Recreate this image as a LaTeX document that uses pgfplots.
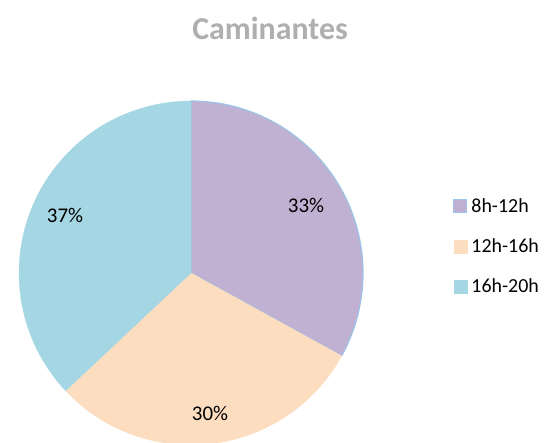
\documentclass[border=0pt]{standalone}
\usepackage{fontspec}
\setmainfont{Carlito}
\usepackage{pgfplots}
\pgfplotsset{compat=1.18}
\definecolor{cPurple}{RGB}{192,177,211}
\definecolor{cPeach}{RGB}{252,221,192}
\definecolor{cBlue}{RGB}{165,214,227}
\definecolor{cEdge}{RGB}{157,195,230}
\definecolor{cTitle}{RGB}{175,175,175}
% data: percentages
\def\va{33}\def\vb{30}\def\vc{37}
\begin{document}
\begin{tikzpicture}
\useasboundingbox (0,0) rectangle (545bp,443bp);
\clip (0,0) rectangle (545bp,443bp);
\begin{axis}[
  at={(0,0)}, anchor=south west,
  width=545bp, height=443bp, scale only axis,
  xmin=0, xmax=545, ymin=0, ymax=443,
  hide axis, clip=true,
  legend style={at={(axis cs:453,247)}, anchor=north west, draw=none, fill=none,
    font=\fontsize{20}{20}\selectfont, row sep=21bp, inner sep=0pt,
    cells={anchor=west}},
  legend image code/.code={\draw[#1] (0bp,-6.5bp) rectangle (13bp,6.5bp); \path (15bp,0bp);},
]
\addplot[fill=cPurple, draw=cEdge, line width=1.2bp, domain={90}:{90-3.6*\va}, samples=90]
  ({191+172*cos(x)},{170+172*sin(x)}) -- (axis cs:191,170) -- cycle;
\addlegendentry{8h-12h}
\addplot[fill=cPeach, draw=cPeach, line width=0.3bp, domain={90-3.6*\va}:{90-3.6*(\va+\vb)}, samples=90]
  ({191+172*cos(x)},{170+172*sin(x)}) -- (axis cs:191,170) -- cycle;
\addlegendentry{12h-16h}
\addplot[fill=cBlue, draw=cBlue, line width=0.3bp, domain={90-3.6*(\va+\vb)}:{-270}, samples=90]
  ({191+172*cos(x)},{170+172*sin(x)}) -- (axis cs:191,170) -- cycle;
\addlegendentry{16h-20h}
\node[font=\fontsize{21}{21}\selectfont] at (axis cs:306,238) {\va\%};
\node[font=\fontsize{21}{21}\selectfont] at (axis cs:210,30) {\vb\%};
\node[font=\fontsize{21}{21}\selectfont] at (axis cs:65,228) {\vc\%};
\node[font=\bfseries\fontsize{32}{32}\selectfont, text=cTitle] at (axis cs:270,415) {Caminantes};
\end{axis}
\end{tikzpicture}
\end{document}
